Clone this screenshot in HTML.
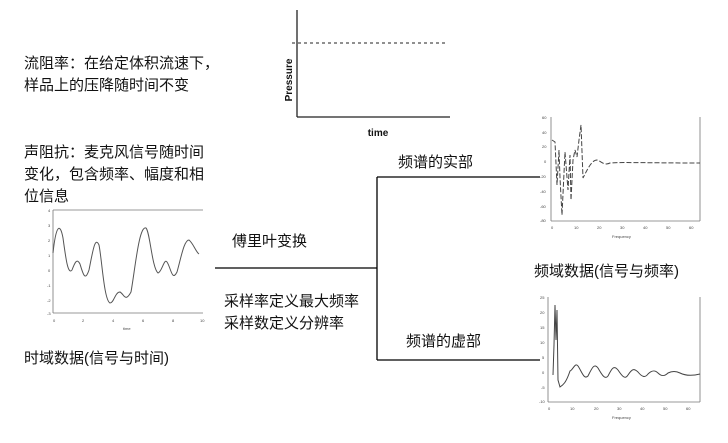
<!DOCTYPE html>
<html><head><meta charset="utf-8"><style>
html,body{margin:0;padding:0;background:#fff;}
svg{display:block;}
text{font-family:"Liberation Sans","Noto Sans CJK SC",sans-serif;fill:#111;}
.cj{font-size:15px;}
.t{font-size:4px;fill:#444;}
</style></head><body>
<svg width="728" height="443" viewBox="0 0 728 443" xmlns="http://www.w3.org/2000/svg">
<text class="cj" x="24" y="68">流阻率：在给定体积流速下，</text>
<text class="cj" x="24" y="90">样品上的压降随时间不变</text>
<text class="cj" x="24" y="157">声阻抗：麦克风信号随时间</text>
<text class="cj" x="24" y="179">变化，包含频率、幅度和相</text>
<text class="cj" x="24" y="201">位信息</text>
<text class="cj" x="232" y="246">傅里叶变换</text>
<text class="cj" x="224" y="306">采样率定义最大频率</text>
<text class="cj" x="224" y="328">采样数定义分辨率</text>
<text class="cj" x="24" y="363">时域数据(信号与时间)</text>
<text class="cj" x="398" y="167">频谱的实部</text>
<text class="cj" x="406" y="346">频谱的虚部</text>
<text class="cj" x="534" y="276">频域数据(信号与频率)</text>

<line x1="297" y1="10" x2="297" y2="117" stroke="#222" stroke-width="1.3"/>
<line x1="297" y1="117" x2="450" y2="117" stroke="#222" stroke-width="1.3"/>
<line x1="292" y1="43" x2="446" y2="43" stroke="#222" stroke-width="1" stroke-dasharray="3,3"/>
<text x="292" y="80" font-size="10" font-weight="bold" text-anchor="middle" transform="rotate(-90 292 80)">Pressure</text>
<text x="378" y="136" font-size="10" font-weight="bold" text-anchor="middle">time</text>

<line x1="215" y1="268" x2="377" y2="268" stroke="#000" stroke-width="1.3"/>
<line x1="377" y1="177" x2="377" y2="360" stroke="#000" stroke-width="1.3"/>
<line x1="377" y1="177" x2="540" y2="177" stroke="#000" stroke-width="1.3"/>
<line x1="377" y1="360" x2="540" y2="360" stroke="#000" stroke-width="1.3"/>

<g stroke="#777" fill="none" stroke-width="0.8">
<line x1="53" y1="210" x2="53" y2="313"/>
<line x1="53" y1="313" x2="203" y2="313"/>
<line x1="53" y1="210" x2="203" y2="210"/>
<path d="M53,253 C56,225 60,222 63,238 C66,260 68,275 72,270 C75,262 77,258 80,264 C83,274 85,282 89,270 C93,250 95,236 99,245 C102,260 104,300 110,303 C114,303 115,292 120,292 C124,294 125,303 131,292 C135,270 139,225 146,228 C150,232 152,268 158,273 C162,272 164,258 167,262 C171,268 172,282 177,272 C181,258 184,240 189,240 C193,243 196,252 199,254" stroke="#555" stroke-width="1"/>
</g>
<text class="t" x="48" y="212">4</text><text class="t" x="48" y="227">3</text><text class="t" x="48" y="242">2</text><text class="t" x="48" y="257">1</text><text class="t" x="48" y="272">0</text><text class="t" x="47" y="287">-1</text><text class="t" x="47" y="302">-2</text><text class="t" x="47" y="315">-3</text>
<text class="t" x="53" y="322">0</text><text class="t" x="82" y="322">2</text><text class="t" x="112" y="322">4</text><text class="t" x="142" y="322">6</text><text class="t" x="172" y="322">8</text><text class="t" x="200" y="322">10</text>
<text class="t" x="123" y="330">time</text>

<g stroke="#777" fill="none" stroke-width="0.8">
<line x1="551" y1="117" x2="551" y2="221"/>
<line x1="551" y1="221" x2="700" y2="221"/>
<line x1="700" y1="117" x2="700" y2="221"/>
<path d="M552,140 L555,142 L557,185 L559,150 L560,178 L562,215 L565,152 L568,190 L570,155 L571,200 L573,160 L575,150 L577,157 L579,140 L581,125 L583,178 C588,168 592,160 597,160 C601,161 604,166 610,163 C620,162 650,163 700,163" stroke="#444" stroke-dasharray="5,2" stroke-width="1"/>
</g>
<text class="t" x="542" y="119">60</text><text class="t" x="542" y="134">40</text><text class="t" x="542" y="148">20</text><text class="t" x="544" y="163">0</text><text class="t" x="540" y="178">-20</text><text class="t" x="540" y="193">-40</text><text class="t" x="540" y="208">-60</text><text class="t" x="540" y="222">-80</text>
<text class="t" x="551" y="229">0</text><text class="t" x="574" y="229">10</text><text class="t" x="597" y="229">20</text><text class="t" x="620" y="229">30</text><text class="t" x="643" y="229">40</text><text class="t" x="666" y="229">50</text><text class="t" x="689" y="229">60</text>
<text class="t" x="612" y="238">Frequency</text>

<g stroke="#777" fill="none" stroke-width="0.8">
<line x1="548" y1="297" x2="548" y2="402"/>
<line x1="548" y1="402" x2="700" y2="402"/>
<line x1="700" y1="297" x2="700" y2="402"/>
<path d="M553,375 L554,345 L555,305 L556,340 L557,310 L558,380 L560,387 C563,385 566,383 570,371 C573,370 575,362 578,366 C582,372 584,380 588,376 C592,368 594,363 598,368 C602,375 605,380 608,376 C612,368 614,365 618,370 C622,376 625,380 628,375 C632,369 634,368 638,372 C642,377 645,378 648,374 C652,370 655,370 658,373 C662,377 665,376 668,373 C672,371 676,371 680,373 C686,376 692,376 700,374" stroke="#444" stroke-width="1"/>
</g>
<text class="t" x="540" y="299">25</text><text class="t" x="540" y="314">20</text><text class="t" x="540" y="329">15</text><text class="t" x="540" y="344">10</text><text class="t" x="542" y="359">5</text><text class="t" x="542" y="374">0</text><text class="t" x="541" y="389">-5</text><text class="t" x="539" y="403">-10</text>
<text class="t" x="548" y="410">0</text><text class="t" x="570" y="410">10</text><text class="t" x="594" y="410">20</text><text class="t" x="617" y="410">30</text><text class="t" x="640" y="410">40</text><text class="t" x="663" y="410">50</text><text class="t" x="686" y="410">60</text>
<text class="t" x="612" y="419">Frequency</text>
</svg>
</body></html>
